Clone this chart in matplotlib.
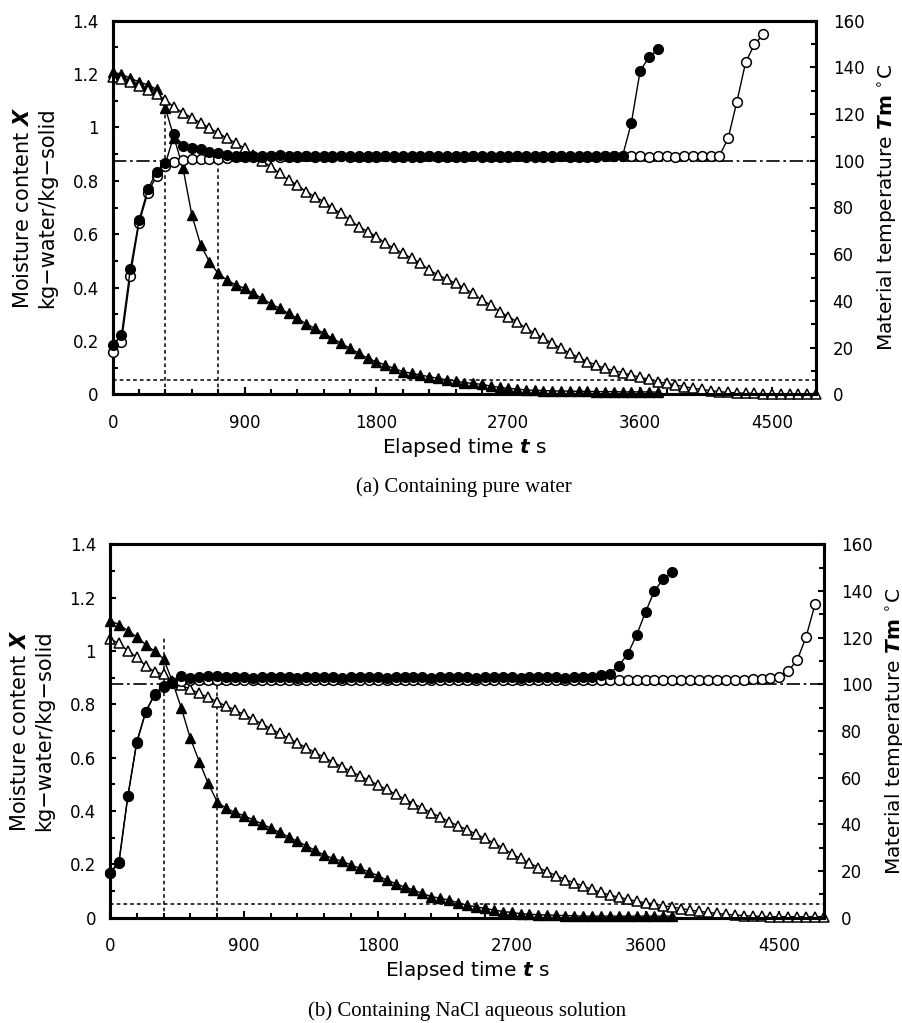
import matplotlib
matplotlib.use("Agg")
import matplotlib.pyplot as plt
from matplotlib.ticker import MultipleLocator, FixedLocator, FuncFormatter

# ---------------- data ----------------
# sampling instants, s
T_GRID = [0, 60, 120, 180, 240, 300, 360, 420, 480, 540, 600, 660, 720, 780, 840,
          900, 960, 1020, 1080, 1140, 1200, 1260, 1320, 1380, 1440, 1500, 1560, 1620,
          1680, 1740, 1800, 1860, 1920, 1980, 2040, 2100, 2160, 2220, 2280, 2340, 2400,
          2460, 2520, 2580, 2640, 2700, 2760, 2820, 2880, 2940, 3000, 3060, 3120, 3180,
          3240, 3300, 3360, 3420, 3480, 3540, 3600, 3660, 3720, 3780, 3840, 3900, 3960,
          4020, 4080, 4140, 4200, 4260, 4320, 4380, 4440, 4500, 4560, 4620, 4680, 4740, 4800]

# (a) pure water: moisture content X (kg-water/kg-solid)
A_X_FILLED = [1.206, 1.200, 1.184, 1.171, 1.159, 1.143, 1.071, 0.960, 0.847, 0.672,
              0.560, 0.497, 0.453, 0.428, 0.410, 0.397, 0.378, 0.360, 0.339, 0.322,
              0.303, 0.285, 0.264, 0.247, 0.229, 0.210, 0.191, 0.172, 0.154, 0.135,
              0.122, 0.110, 0.097, 0.085, 0.079, 0.072, 0.066, 0.060, 0.054, 0.050,
              0.044, 0.041, 0.037, 0.031, 0.026, 0.022, 0.020, 0.016, 0.015, 0.014,
              0.013, 0.012, 0.012, 0.011, 0.011, 0.010, 0.010, 0.010, 0.009, 0.009,
              0.009, 0.009, 0.008]
A_X_OPEN = [1.190, 1.180, 1.170, 1.155, 1.140, 1.125, 1.103, 1.075, 1.055, 1.036,
            1.017, 0.998, 0.979, 0.960, 0.941, 0.922, 0.898, 0.874, 0.853, 0.828,
            0.803, 0.784, 0.759, 0.741, 0.722, 0.697, 0.678, 0.653, 0.628, 0.610,
            0.591, 0.566, 0.547, 0.528, 0.510, 0.491, 0.466, 0.447, 0.432, 0.416,
            0.397, 0.378, 0.353, 0.335, 0.310, 0.291, 0.272, 0.247, 0.229, 0.210,
            0.191, 0.172, 0.154, 0.139, 0.122, 0.110, 0.097, 0.089, 0.081, 0.072,
            0.064, 0.056, 0.047, 0.041, 0.035, 0.029, 0.022, 0.019, 0.014, 0.010,
            0.007, 0.005, 0.004, 0.003, 0.002, 0.002, 0.002, 0.002, 0.002, 0.002,
            0.002]
# (a) material temperature Tm (degC)
A_T_FILLED = [21.0, 25.4, 53.5, 74.6, 87.8, 95.3, 98.9, 111.3, 106.5, 105.3,
              104.9, 103.9, 103.2,
              102.4, 102.1, 102.0, 102.2, 101.9, 102.0, 102.3, 102.0, 101.9, 102.1,
              102.0, 102.0, 102.2, 101.9, 102.0, 102.0, 102.1, 101.9, 102.0, 102.0,
              102.1, 102.0, 101.9, 102.0, 102.0, 102.1, 102.0, 101.9, 102.0, 102.0,
              102.1, 102.0, 101.9, 102.0, 102.1, 102.0, 102.0, 101.9, 102.0, 102.0,
              102.1, 102.0, 101.9, 102.0, 102.0, 102.1,
              116.3, 138.6, 144.3, 147.7]
A_T_OPEN = [18.3, 22.6, 50.7, 73.5, 86.4, 93.6, 97.9, 99.4, 100.3, 100.7,
            100.7, 100.7, 100.7,
            101.2, 101.5, 101.6, 101.8, 101.8, 102.2, 101.8, 101.7, 101.8, 101.9,
            101.8, 101.7, 101.8, 101.9, 101.8, 101.8, 101.7, 101.8, 101.9, 101.8,
            101.8, 101.7, 101.8, 101.9, 101.8, 101.8, 101.7, 101.8, 101.9, 101.8,
            101.8, 101.7, 101.8, 101.9, 101.8, 101.8, 101.7, 101.8, 101.9, 101.8,
            101.8, 101.7, 101.8, 101.9, 102.2, 102.2, 102.2, 102.2, 101.5, 102.2,
            102.2, 101.5, 102.2, 102.2, 102.2, 102.2,
            102.0, 109.6, 125.3, 142.2, 149.9, 154.1]

# (b) NaCl aqueous solution: moisture content X
B_X_FILLED = [1.114, 1.099, 1.076, 1.053, 1.024, 0.999, 0.971, 0.885, 0.785, 0.673,
              0.585, 0.504, 0.435,
              0.410, 0.395, 0.382, 0.368, 0.352, 0.336, 0.320, 0.303, 0.286, 0.270,
              0.252, 0.235,
              0.222, 0.212, 0.198, 0.185, 0.172, 0.158, 0.141, 0.128, 0.115, 0.104,
              0.091, 0.079, 0.073, 0.066, 0.056, 0.047, 0.041, 0.035, 0.029, 0.023,
              0.020, 0.015, 0.013, 0.011, 0.010, 0.009, 0.008, 0.007,
              0.006, 0.006, 0.006, 0.006, 0.006, 0.006, 0.006, 0.006, 0.006, 0.006,
              0.006]
B_X_OPEN = [1.044, 1.029, 1.001, 0.976, 0.944, 0.922, 0.913, 0.888, 0.872, 0.856,
            0.841, 0.826, 0.810, 0.794, 0.779,
            0.762, 0.745, 0.727, 0.709, 0.691, 0.673, 0.655, 0.637, 0.619, 0.601,
            0.583, 0.566, 0.549, 0.532, 0.515, 0.498, 0.481, 0.463, 0.445, 0.428,
            0.411, 0.394, 0.377, 0.360,
            0.345, 0.330, 0.314, 0.297, 0.280, 0.262,
            0.240, 0.222, 0.205, 0.188, 0.172, 0.158, 0.143, 0.131, 0.119, 0.106,
            0.095, 0.085, 0.077, 0.069, 0.062, 0.056, 0.051, 0.045, 0.040, 0.034,
            0.029, 0.024, 0.020, 0.016, 0.013, 0.010, 0.008, 0.006, 0.005,
            0.004, 0.004, 0.004, 0.004, 0.004, 0.004, 0.004]
# (b) material temperature Tm
B_T_FILLED = [19.3, 24.0, 52.1, 75.4, 88.3, 95.9, 99.4, 101.1, 103.6, 102.8,
              103.2, 103.4, 103.7,
              103.0, 103.1, 103.0, 102.9, 103.0, 103.2, 103.0, 103.0, 102.9, 103.0,
              103.1, 103.0, 103.0, 102.9, 103.0, 103.1, 103.0, 103.0, 102.9, 103.0,
              103.1, 103.0, 103.0, 102.9, 103.0, 103.1, 103.0, 103.0, 102.9, 103.0,
              103.1, 103.0, 103.0, 102.9, 103.0, 103.1, 103.0, 103.0, 102.9, 103.0,
              103.2, 103.3,
              104.0, 104.6, 108.0, 112.9, 121.1, 130.9, 140.1, 145.1, 148.0]
B_T_OPEN = [19.0, 23.5, 52.0, 75.0, 88.0, 95.5, 99.0, 100.5, 101.5,
            101.8, 101.9, 101.9, 101.8, 101.9, 101.9, 101.8, 101.9, 101.9, 101.8,
            101.9, 101.9, 101.8, 101.9, 101.9, 101.8, 101.9, 101.9, 101.8, 101.9,
            101.9, 101.8, 101.9, 101.9, 101.8, 101.9, 101.9, 101.8, 101.9, 101.9,
            101.8, 101.9, 101.9, 101.8, 101.9, 101.9, 101.8, 101.9, 101.9, 101.8,
            101.9, 101.9, 101.8, 101.9, 101.9, 101.8, 101.9, 101.9, 101.8, 101.9,
            101.9, 101.8, 101.9, 101.9, 101.8, 101.9, 101.9, 101.8, 101.9, 101.9,
            101.8, 101.9, 101.9, 102.2, 102.3,
            102.6, 103.0, 105.8, 110.4, 120.4, 134.4]

# reference levels drawn as guide lines
A_REF = dict(t_boil=100.0, x_low=0.055, t1=360, t1_top=1.055, t2=720, t2_top=0.875)
B_REF = dict(t_boil=100.0, x_low=0.050, t1=360, t1_top=1.049, t2=720, t2_top=0.875)

X_TICKS = [0, 900, 1800, 2700, 3600, 4500]
CAPTIONS = ["(a) Containing pure water", "(b) Containing NaCl aqueous solution"]

# ---------------- figure ----------------
plt.rcParams['font.family'] = ['DejaVu Sans']
plt.rcParams['mathtext.fontset'] = 'dejavusans'

W, H = 902, 1023
fig = plt.figure(figsize=(W / 100, H / 100), dpi=100)

def px_rect(left, top, right, bottom):
    return [left / W, 1 - bottom / H, (right - left) / W, (bottom - top) / H]

def fmt_left(v, pos):
    s = f"{v:.1f}"
    return s[:-2] if s.endswith(".0") else s

DOT = (0, (2.4, 2.0))
DASHDOT = (0, (8.0, 2.2, 1.6, 2.2))
SPINE_W = 2.2


def panel(rect, xf, xo, tf, to, ref, caption):
    ax = fig.add_axes(rect)
    ax2 = ax.twinx()
    ax.set_xlim(0, 4800)
    ax.set_ylim(0, 1.4)
    ax2.set_ylim(0, 160)

    # guide lines
    ax2.axhline(ref['t_boil'], color='k', lw=1.2, ls=DASHDOT, zorder=1)
    ax.axhline(ref['x_low'], color='k', lw=1.1, ls=DOT, zorder=1)
    ax.vlines([ref['t1'], ref['t2']], 0, [ref['t1_top'], ref['t2_top']],
              colors='k', lw=1.1, linestyles=[DOT], zorder=1)

    # moisture content (triangles)
    ax.plot(T_GRID[:len(xf)], xf, color='k', lw=1.0, marker='^', ms=7.5,
            mfc='k', mec='k', mew=1.0, clip_on=False, zorder=3)
    ax.plot(T_GRID[:len(xo)], xo, color='k', lw=1.0, marker='^', ms=7.5,
            mfc='white', mec='k', mew=1.1, clip_on=False, zorder=4)
    # temperature (circles)
    ax2.plot(T_GRID[:len(to)], to, color='k', lw=1.0, marker='o', ms=7,
             mfc='white', mec='k', mew=1.1, clip_on=False, zorder=3)
    ax2.plot(T_GRID[:len(tf)], tf, color='k', lw=1.0, marker='o', ms=7,
             mfc='k', mec='k', mew=1.0, clip_on=False, zorder=4)

    # ticks
    ax.xaxis.set_major_locator(FixedLocator(X_TICKS))
    ax.xaxis.set_minor_locator(MultipleLocator(180))
    ax.yaxis.set_major_locator(MultipleLocator(0.2))
    ax.yaxis.set_minor_locator(MultipleLocator(0.1))
    ax.yaxis.set_major_formatter(FuncFormatter(fmt_left))
    ax2.yaxis.set_major_locator(MultipleLocator(20))
    ax2.yaxis.set_minor_locator(MultipleLocator(10))

    ax.tick_params(axis='x', which='major', direction='in', length=5, width=1.5,
                   pad=14, labelsize=12, top=False)
    ax.tick_params(axis='x', which='minor', direction='in', length=3.5, width=1.5,
                   top=False)
    ax.tick_params(axis='y', which='major', direction='in', length=4, width=1.5,
                   pad=10, labelsize=12, right=False)
    ax.tick_params(axis='y', which='minor', direction='in', length=3.5, width=1.5,
                   right=False)
    ax2.tick_params(axis='y', which='major', direction='in', length=4, width=1.5,
                    pad=12, labelsize=12, left=False)
    ax2.tick_params(axis='y', which='minor', direction='in', length=3.5, width=1.5,
                    left=False)

    for a in (ax, ax2):
        for sp in a.spines.values():
            sp.set_linewidth(SPINE_W)

    # labels
    hpx = rect[3] * H
    wpx = rect[2] * W
    ax.text(-78 / wpx, 0.5,
            "Moisture content $\\mathbfit{X}$\nkg\u2212water/kg\u2212solid",
            rotation=90, ha='center', va='center', multialignment='center',
            fontsize=15, linespacing=1.25, transform=ax.transAxes)
    ax.text(1 + 70 / wpx, 0.5,
            "Material temperature $\\mathbfit{T}\\mathbf{m}$ $^{\\circ}$C",
            rotation=90, ha='center', va='center', fontsize=14.5,
            transform=ax.transAxes)
    ax.text(0.5, -53 / hpx, "Elapsed time $\\mathbfit{t}$ s", ha='center',
            va='center', fontsize=14.5, transform=ax.transAxes)
    ax.text(0.5, -93 / hpx, caption, ha='center', va='center', fontsize=15,
            family='Liberation Serif', transform=ax.transAxes)
    return ax, ax2


panel(px_rect(112.7, 20.7, 816.0, 394.3), A_X_FILLED, A_X_OPEN, A_T_FILLED,
      A_T_OPEN, A_REF, CAPTIONS[0])
panel(px_rect(110.0, 544.3, 824.0, 917.7), B_X_FILLED, B_X_OPEN, B_T_FILLED,
      B_T_OPEN, B_REF, CAPTIONS[1])

fig.savefig("out.png", dpi=100)
